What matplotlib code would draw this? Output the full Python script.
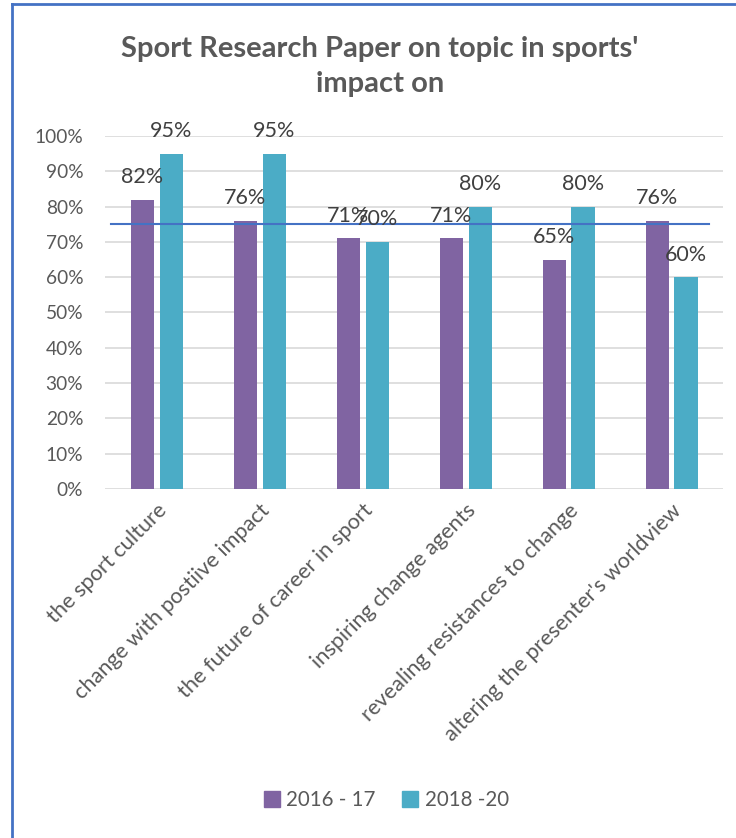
import numpy as np
import matplotlib.pyplot as plt
from matplotlib.lines import Line2D
from matplotlib.ticker import PercentFormatter

categories = ["the sport culture", "change with postiive impact",
              "the future of career in sport", "inspiring change agents",
              "revealing resistances to change", "altering the presenter's worldview"]
s2016 = [82, 76, 71, 71, 65, 76]
s2018 = [95, 95, 70, 80, 80, 60]
series_names = ["2016 - 17", "2018 -20"]
target = 75

plt.rcParams['font.family'] = ['Lato', 'DejaVu Sans']
grey = "#595959"
purple = "#8064A2"
teal = "#4BACC6"

fig = plt.figure(figsize=(7.36, 8.38), dpi=100)
ax = fig.add_axes([0.1433, 0.4165, 0.839, 0.4212])

x = np.arange(len(categories))
w = 0.225
off = 0.14
b1 = ax.bar(x - off, s2016, w, color=purple, label=series_names[0], zorder=2)
b2 = ax.bar(x + off, s2018, w, color=teal, label=series_names[1], zorder=2)
for bars, vals in ((b1, s2016), (b2, s2018)):
    for r, v in zip(bars, vals):
        ax.annotate(f"{v}%", (r.get_x() + r.get_width() / 2, v), xytext=(0, 9),
                    textcoords="offset points", ha="center", va="bottom",
                    fontsize=15.5, color="#404040", zorder=4)

ax.plot([x[0] - 0.45, x[-1] + 0.36], [target, target], color="#4472C4", lw=1.5, zorder=3)

ax.set_xlim(-0.5, len(categories) - 0.5)
ax.set_ylim(0, 100)
ax.set_yticks(range(0, 101, 10))
ax.yaxis.set_major_formatter(PercentFormatter(decimals=0))
ax.grid(axis="y", color="#D9D9D9", lw=1.2, zorder=0)
for s in ax.spines.values():
    s.set_visible(False)
ax.tick_params(axis="both", length=0, labelcolor=grey)
ax.tick_params(axis="y", pad=16, labelsize=13.8)
ax.tick_params(axis="x", pad=8)
ax.set_xticks(x)
ax.set_xticklabels(categories, rotation=45, ha="right", rotation_mode="anchor")
for lbl in ax.get_xticklabels():
    lbl.set_fontsize(15.7)

fig.text(0.516, 0.9206, "Sport Research Paper on topic in sports'\nimpact on", ha="center",
         va="center", fontsize=21, fontweight="bold", color=grey, linespacing=1.45)

handles = [Line2D([], [], marker="s", ls="", color=purple, markersize=11),
           Line2D([], [], marker="s", ls="", color=teal, markersize=11)]
fig.legend(handles, series_names, loc="center", bbox_to_anchor=(0.522, 0.045), ncol=2,
           frameon=False, fontsize=14.8, labelcolor=grey, handletextpad=0.1,
           columnspacing=1.1, handlelength=1.2)

# outer chart border (left and top visible)
fig.add_artist(Line2D([12 / 736, 12 / 736], [0, 1 - 4 / 838], color="#4472C4", lw=2,
                      transform=fig.transFigure))
fig.add_artist(Line2D([12 / 736, 1], [1 - 4 / 838, 1 - 4 / 838], color="#4472C4", lw=2,
                      transform=fig.transFigure))

fig.savefig("out.png", dpi=100)
